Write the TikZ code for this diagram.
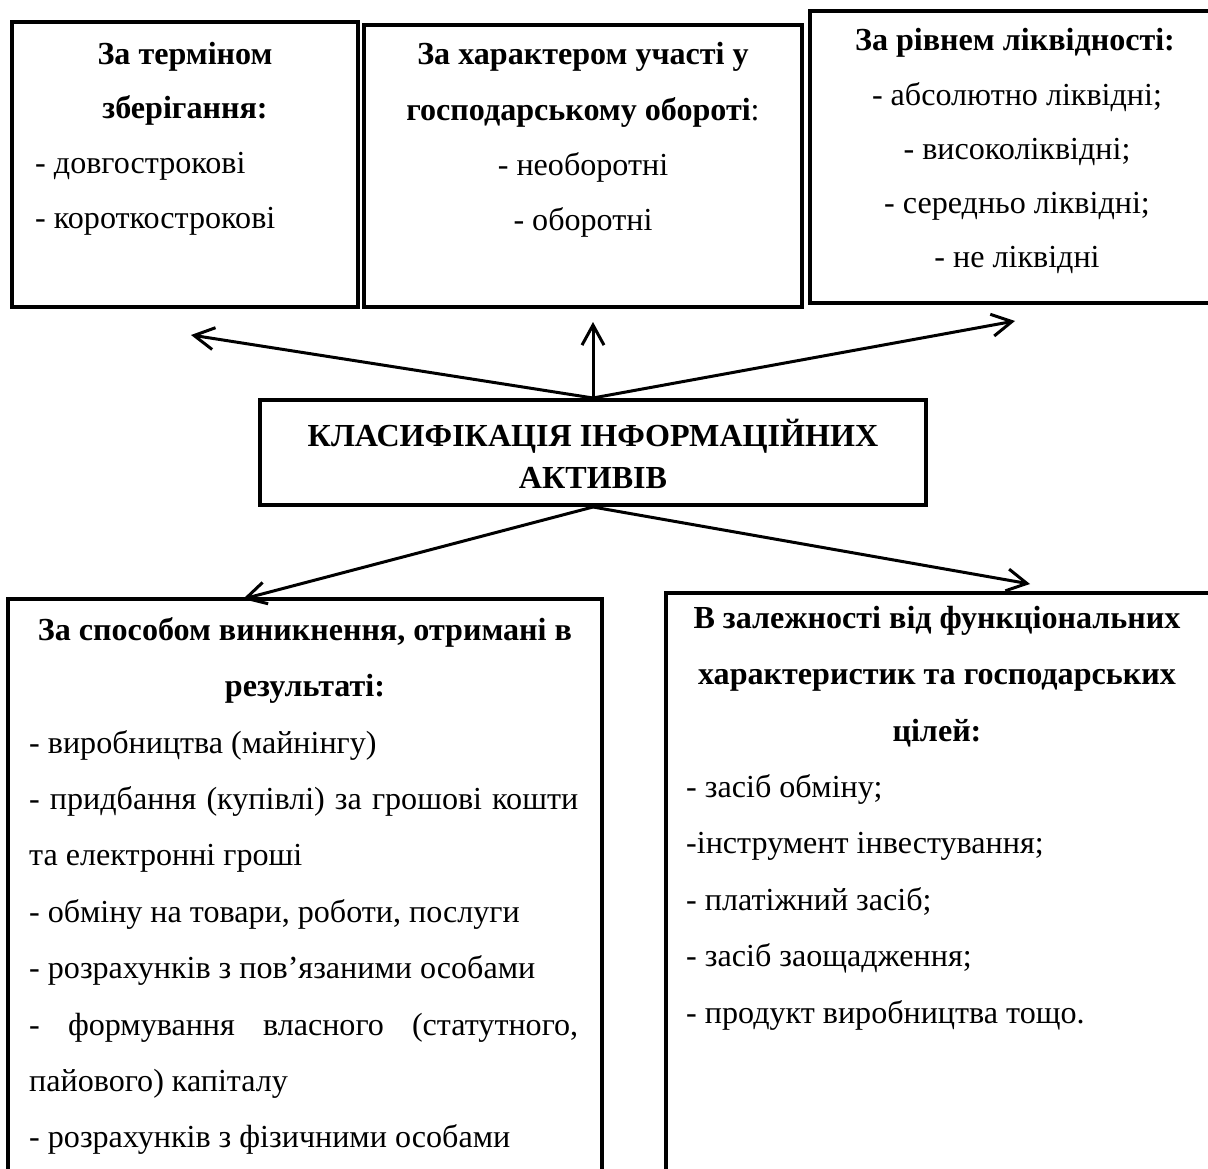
\documentclass[tikz,border=0pt]{standalone}
\usepackage{fontspec}
\setmainfont{Liberation Serif}
\newfontfamily\tnr{Liberation Serif}
\usetikzlibrary{arrows.meta}
\begin{document}
\begin{tikzpicture}[x=1pt,y=-1pt,
  box/.style={draw, line width=4pt, rectangle, inner sep=0pt},
  arr/.style={line width=3pt, -{Straight Barb[length=20pt,width=22pt,line width=3pt]}},
  lbl/.style={inner sep=0pt, font=\tnr\fontsize{32.1}{36}\selectfont},
  hd/.style={inner sep=0pt, font=\tnr\fontsize{32.1}{36}\selectfont\bfseries}
]
\useasboundingbox (0,0) rectangle (1208,1169);
\fill[white] (0,0) rectangle (1208,1169);
% boxes
\node[box, minimum width=346pt, minimum height=285pt] (b1) at (185,164.5) {};
\node[box, minimum width=438pt, minimum height=282pt] (b2) at (583,166) {};
\node[box, minimum width=402pt, minimum height=292pt] (b3) at (1011,157) {};
\node[box, minimum width=666pt, minimum height=105pt] (c) at (593,452.5) {};
\node[box, minimum width=594pt, minimum height=581pt] (b4) at (305,889.5) {};
\node[box, minimum width=546pt, minimum height=587pt] (b5) at (939,886.5) {};
% box 1
\node[hd, anchor=mid] (b1h1) at (185,62) {За терміном};
\node[hd, anchor=mid] (b1h2) at (185,116) {зберігання:};
\node[lbl, anchor=mid west] (b1l1) at (35,171) {- довгострокові};
\node[lbl, anchor=mid west] (b1l2) at (35,226) {- короткострокові};
% box 2
\node[hd, anchor=mid] (b2h1) at (583,62) {За характером участі у};
\node[lbl, anchor=mid] (b2h2) at (583,118) {\bfseries господарському обороті\mdseries:};
\node[lbl, anchor=mid] (b2l1) at (583,173) {- необоротні};
\node[lbl, anchor=mid] (b2l2) at (583,228) {- оборотні};
% box 3
\node[hd, anchor=mid] (b3h1) at (1015,48) {За рівнем ліквідності:};
\node[lbl, anchor=mid] (b3l1) at (1017,103) {- абсолютно ліквідні;};
\node[lbl, anchor=mid] (b3l2) at (1017,157) {- високоліквідні;};
\node[lbl, anchor=mid] (b3l3) at (1017,211) {- середньо ліквідні;};
\node[lbl, anchor=mid] (b3l4) at (1017,265) {- не ліквідні};
% central
\node[hd, anchor=base] (ch1) at (593,446) {КЛАСИФІКАЦІЯ ІНФОРМАЦІЙНИХ};
\node[hd, anchor=base] (ch2) at (593,488) {АКТИВІВ};
% box 4
\node[hd, anchor=mid] (b4h1) at (305,638) {За способом виникнення, отримані в};
\node[hd, anchor=mid] (b4h2) at (305,694.4) {результаті:};
\node[lbl, anchor=mid west] (b4l1) at (29,750.8) {- виробництва (майнінгу)};
\node[lbl, anchor=mid west] (b4l2) at (29,807.2) {\makebox[549pt][s]{- придбання (купівлі) за грошові кошти}};
\node[lbl, anchor=mid west] (b4l3) at (29,863.6) {та електронні гроші};
\node[lbl, anchor=mid west] (b4l4) at (29,920) {- обміну на товари, роботи, послуги};
\node[lbl, anchor=mid west] (b4l5) at (29,976.4) {- розрахунків з пов’язаними особами};
\node[lbl, anchor=mid west] (b4l6) at (29,1032.8) {\makebox[549pt][s]{- формування власного (статутного,}};
\node[lbl, anchor=mid west] (b4l7) at (29,1089.2) {пайового) капіталу};
\node[lbl, anchor=mid west] (b4l8) at (29,1145.6) {- розрахунків з фізичними особами};
% box 5
\node[hd, anchor=mid] (b5h1) at (937,626) {В залежності від функціональних};
\node[hd, anchor=mid] (b5h2) at (937,682.4) {характеристик та господарських};
\node[hd, anchor=mid] (b5h3) at (937,738.8) {цілей:};
\node[lbl, anchor=mid west] (b5l1) at (686,795.2) {- засіб обміну;};
\node[lbl, anchor=mid west] (b5l2) at (686,851.6) {-інструмент інвестування;};
\node[lbl, anchor=mid west] (b5l3) at (686,908) {- платіжний засіб;};
\node[lbl, anchor=mid west] (b5l4) at (686,964.4) {- засіб заощадження;};
\node[lbl, anchor=mid west] (b5l5) at (686,1020.8) {- продукт виробництва тощо.};
% arrow ends
\coordinate (tL) at (191,335);
\coordinate (tU) at (593,322);
\coordinate (tR) at (1015,321);
\coordinate (tBL) at (243,599);
\coordinate (tBR) at (1030,584);
\draw[arr] (c.north) -- (tL);
\draw[arr] (c.north) -- (tU);
\draw[arr] (c.north) -- (tR);
\draw[arr] (c.south) -- (tBL);
\draw[arr] (c.south) -- (tBR);
\end{tikzpicture}
\end{document}
